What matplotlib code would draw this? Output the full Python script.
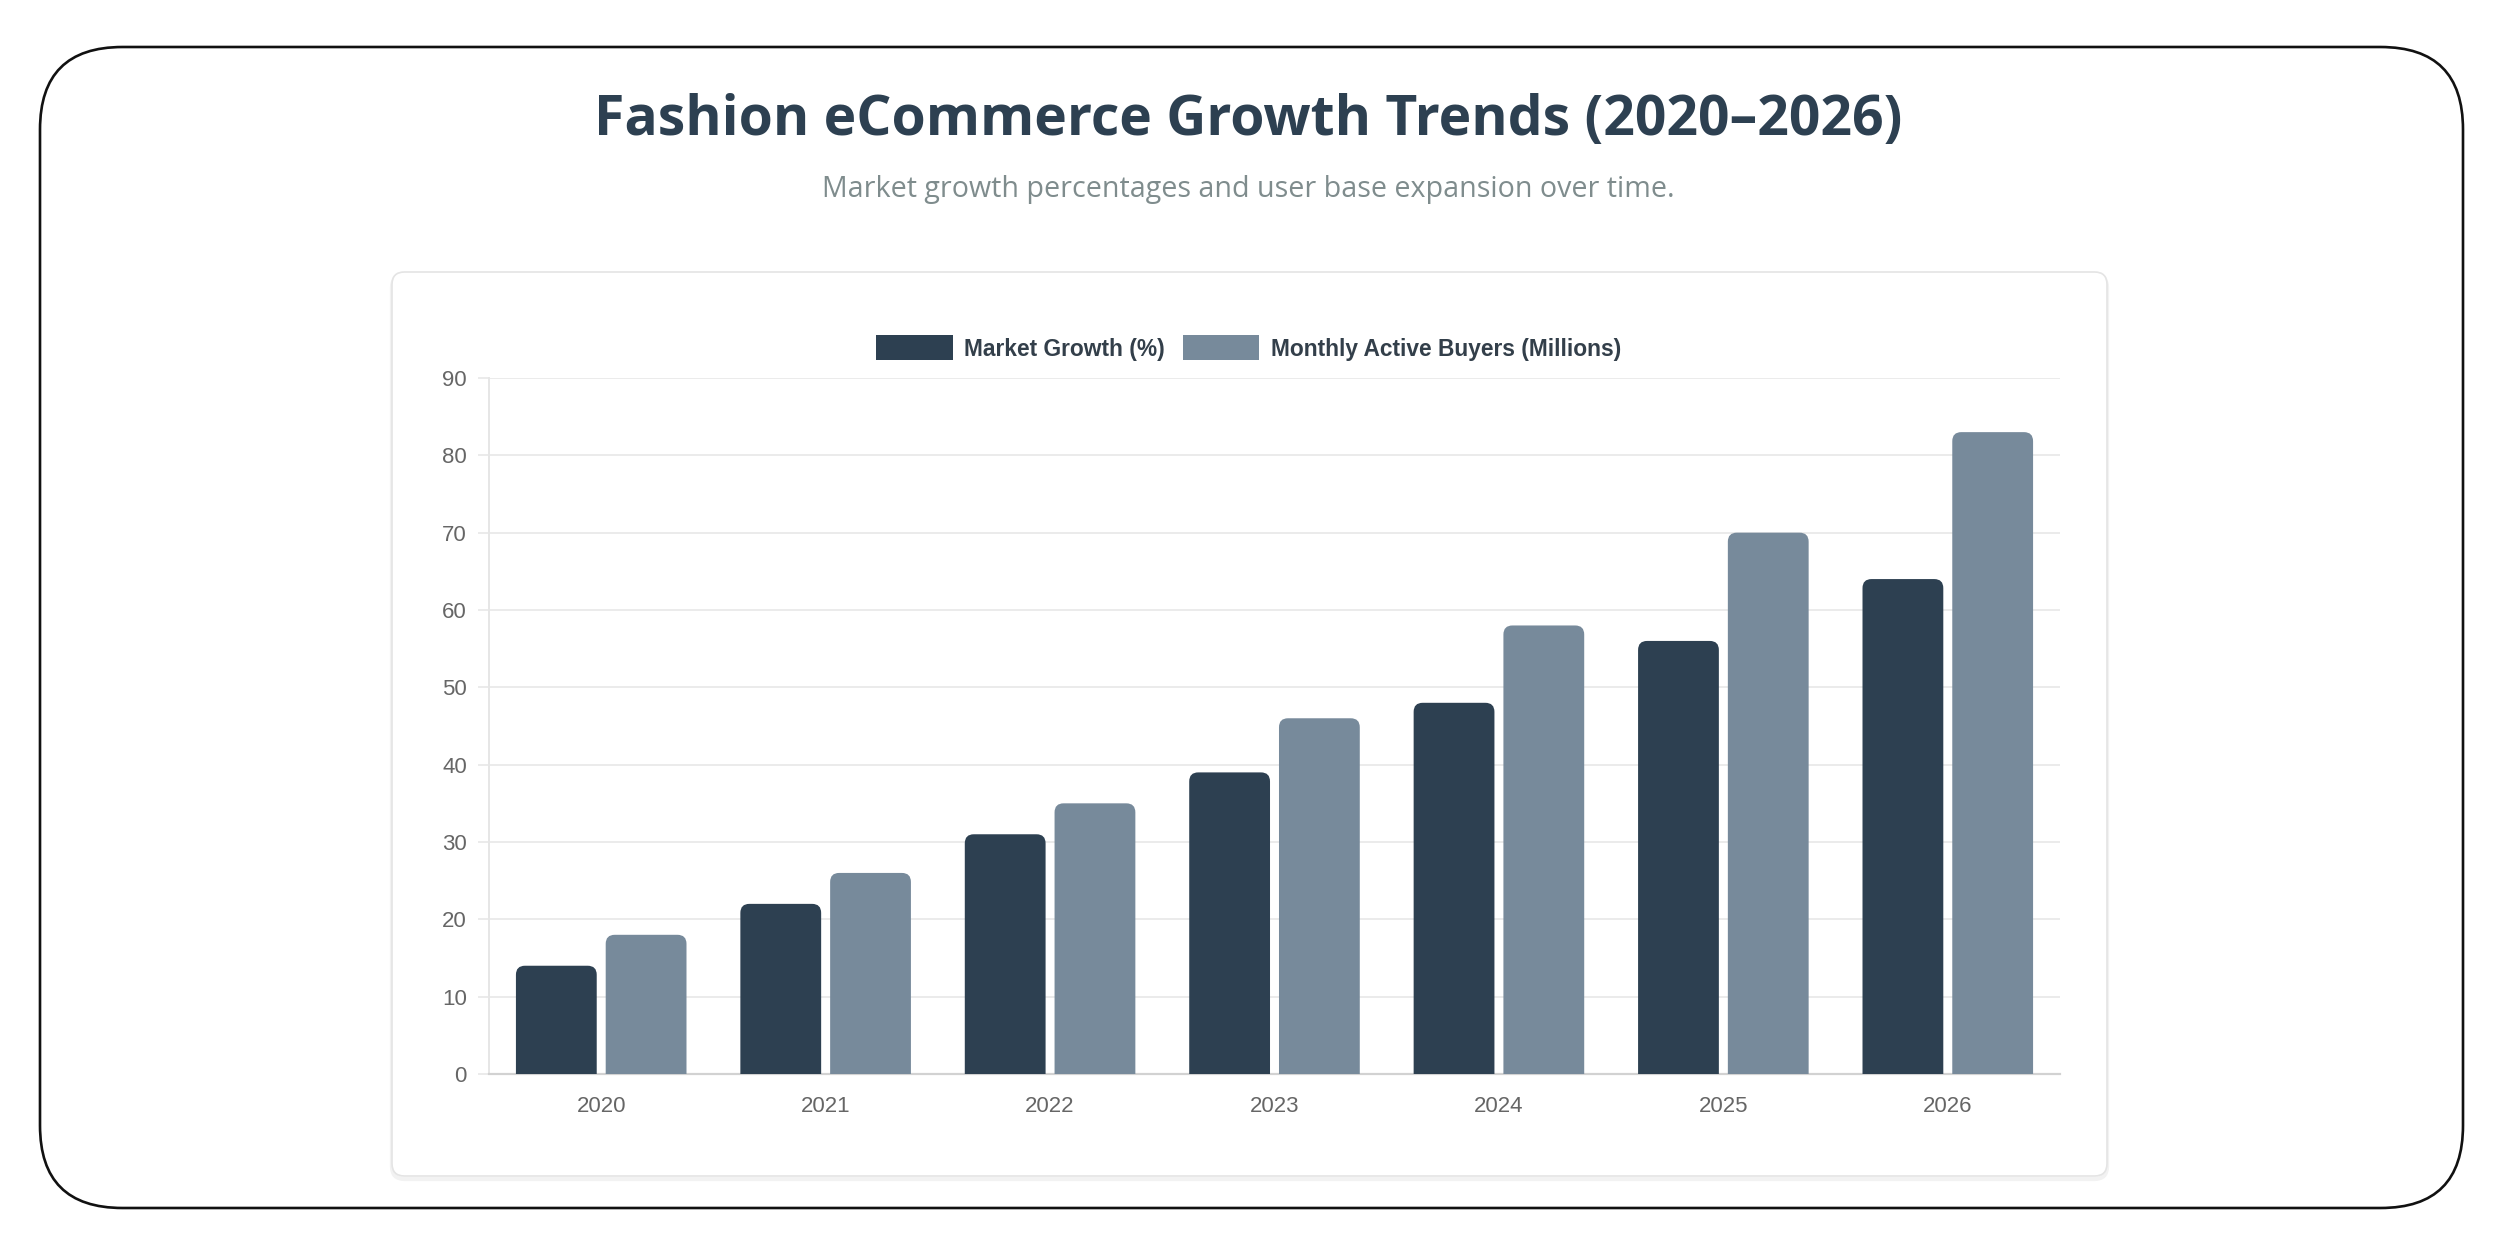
import matplotlib
matplotlib.use("Agg")
import matplotlib.pyplot as plt
import matplotlib.patches as mpatches
from matplotlib.patches import FancyBboxPatch
import numpy as np

# Données
annees = ["2020", "2021", "2022", "2023", "2024", "2025", "2026"]
croissance_marche = [14, 22, 31, 39, 48, 56, 64]
acheteurs_actifs = [18, 26, 35, 46, 58, 70, 83]
graduations_y = [0, 10, 20, 30, 40, 50, 60, 70, 80, 90]

titre = "Fashion eCommerce Growth Trends (2020\u20132026)"
sous_titre = "Market growth percentages and user base expansion over time."
legende = ["Market Growth (%)", "Monthly Active Buyers (Millions)"]

FONCE = "#2d4051"
CLAIR = "#778a9b"

W, H = 2497, 1240
fig = plt.figure(figsize=(W / 100, H / 100), dpi=100)
fig.patch.set_facecolor("white")

# Cadre extérieur arrondi
cadre = FancyBboxPatch((40 / W, 1 - 1208 / H), (2463 - 40) / W, (1208 - 47) / H,
                       boxstyle="round,pad=0,rounding_size=0.033",
                       mutation_aspect=W / H,
                       transform=fig.transFigure, facecolor="white",
                       edgecolor="#111111", linewidth=1.9, zorder=0)
fig.patches.append(cadre)

# Carte du graphique (ombre légère + bordure)
for dec, coul, lw in [(3, "#f2f2f2", 3.0), (0, "#e4e4e4", 1.2)]:
    carte = FancyBboxPatch((392 / W, 1 - (1176 + dec) / H), (2107 - 392) / W, (1176 - 272) / H,
                           boxstyle="round,pad=0,rounding_size=0.005",
                           mutation_aspect=W / H,
                           transform=fig.transFigure, facecolor="white",
                           edgecolor=coul, linewidth=lw, zorder=1)
    fig.patches.append(carte)

fig.text(0.5, 1 - 120 / H, titre, ha="center", va="center",
         fontsize=39.8, fontweight="bold", color=FONCE, family="Open Sans")
fig.text(0.5, 1 - 190 / H, sous_titre, ha="center", va="center",
         fontsize=20.6, color="#7f8c8d", family="Open Sans")

ax = fig.add_axes([489 / W, 1 - 1074 / H, (2060 - 489) / W, (1074 - 378) / H])
ax.set_zorder(2)
ax.patch.set_alpha(0)

x = np.arange(len(annees))
larg = 0.36
b1 = ax.bar(x - 0.2, croissance_marche, larg, color=FONCE)
b2 = ax.bar(x + 0.2, acheteurs_actifs, larg, color=CLAIR)

ax.set_xlim(-0.5, len(annees) - 0.5)
ax.set_ylim(0, 90)

# Coins supérieurs arrondis
fig.canvas.draw()
bb = ax.get_window_extent()
px_x = (len(annees)) / bb.width
px_y = 90 / bb.height
rayon = 9 * px_x
aspect = px_y / px_x
for barres, coul in [(b1, FONCE), (b2, CLAIR)]:
    for r in barres:
        x0, w, h = r.get_x(), r.get_width(), r.get_height()
        r.remove()
        ry = rayon * aspect
        p = FancyBboxPatch((x0, -ry), w, h + ry,
                           boxstyle=f"round,pad=0,rounding_size={rayon}",
                           mutation_aspect=aspect, facecolor=coul,
                           edgecolor="none", zorder=3)
        ax.add_patch(p)

ax.set_yticks(graduations_y)
ax.set_xticks(x)
ax.set_xticklabels(annees)
ax.grid(axis="y", color="#ebebeb", linewidth=1.4, zorder=0)
ax.set_axisbelow(True)
for s in ["top", "right"]:
    ax.spines[s].set_visible(False)
ax.spines["left"].set_color("#e6e6e6")
ax.spines["left"].set_linewidth(1.4)
ax.spines["bottom"].set_color("#d2d2d2")
ax.spines["bottom"].set_linewidth(1.6)
ax.tick_params(axis="y", length=8, width=1.4, color="#ebebeb", pad=8,
               labelsize=16, labelcolor="#666666")
ax.tick_params(axis="x", length=0, pad=16, labelsize=16, labelcolor="#666666")
for lab in ax.get_xticklabels() + ax.get_yticklabels():
    lab.set_family("Liberation Sans")

# Légende centrée sur la figure (comme le canevas d'origine)
poignees = [mpatches.Patch(facecolor=FONCE, edgecolor="none"),
            mpatches.Patch(facecolor=CLAIR, edgecolor="none")]
leg = ax.legend(poignees, legende, loc="center", bbox_to_anchor=(0.5, 1 - 348 / H),
                bbox_transform=fig.transFigure,
                ncol=2, frameon=False, handlelength=3.35, handleheight=1.3,
                handletextpad=0.5, columnspacing=0.8,
                prop={"family": "Liberation Sans", "weight": "bold", "size": 16.4})
for t in leg.get_texts():
    t.set_color("#333f4a")

fig.savefig("out.png", dpi=100, facecolor="white")
